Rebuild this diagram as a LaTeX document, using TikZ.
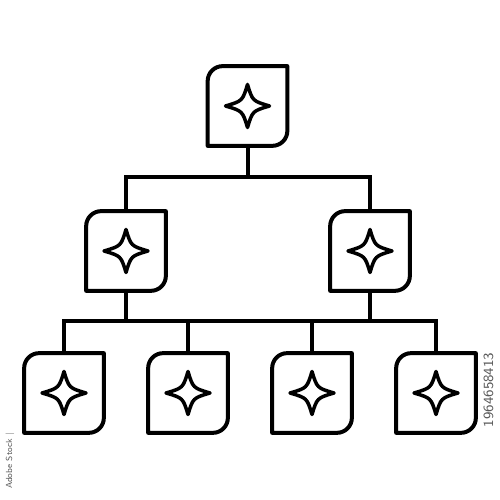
\documentclass[tikz,border=0pt]{standalone}
\usepackage{tikz}
\tikzset{every node/.style={rectangle,minimum size=1.58cm,inner sep=0pt},
  box/.style={line width=0.08cm,line join=round},
  spark/.style={line width=0.07cm,line join=round},
  link/.style={line width=0.08cm},
  mark text/.style={minimum size=0pt,inner sep=0pt,rotate=90,text=black!65,font=\sffamily}}
% one tile: rounded corners top left and bottom right, a star inside
\newcommand\tile[3]{%
  \node (#1) at (#2,#3) {};
  \draw[box] (#1.south west) -- ([yshift=-0.3cm]#1.north west)
    arc[start angle=180,end angle=90,radius=0.3cm] -- (#1.north east)
    -- ([yshift=0.3cm]#1.south east)
    arc[start angle=0,end angle=-90,radius=0.3cm] -- cycle;
  \draw[spark,shift={(#2,#3)}] (0,0.43) .. controls (0.1,0.1) .. (0.44,0)
    .. controls (0.1,-0.1) .. (0,-0.43) .. controls (-0.1,-0.1) .. (-0.44,0)
    .. controls (-0.1,0.1) .. cycle;}

\begin{document}
\begin{tikzpicture}
  \useasboundingbox (0,0) rectangle (10,10);
  \tile{T}{4.95}{7.88}
  \tile{ML}{2.52}{4.98}
  \tile{MR}{7.40}{4.98}
  \tile{L1}{1.28}{2.14}
  \tile{L2}{3.76}{2.14}
  \tile{L3}{6.24}{2.14}
  \tile{L4}{8.72}{2.14}

  \coordinate (B1) at (4.95,6.46);
  \coordinate (B2) at (4.95,3.58);

  \draw[link] (T.south) -- (B1);
  \draw[link] (ML.north) |- (B1) -| (MR.north);
  \draw[link] (ML.south) -- (ML.south |- B2);
  \draw[link] (MR.south) -- (MR.south |- B2);
  \draw[link] (L1.north) |- (B2) -| (L4.north);
  \draw[link] (L2.north) -- (L2.north |- B2);
  \draw[link] (L3.north) -- (L3.north |- B2);

  \node[mark text,font=\sffamily\fontsize{5}{6}\selectfont] (stock) at (0.2,0.78) {Adobe Stock |};
  \node[mark text,font=\sffamily\fontsize{8}{9}\selectfont] (code) at (9.77,2.2) {1964658413};
\end{tikzpicture}
\end{document}
